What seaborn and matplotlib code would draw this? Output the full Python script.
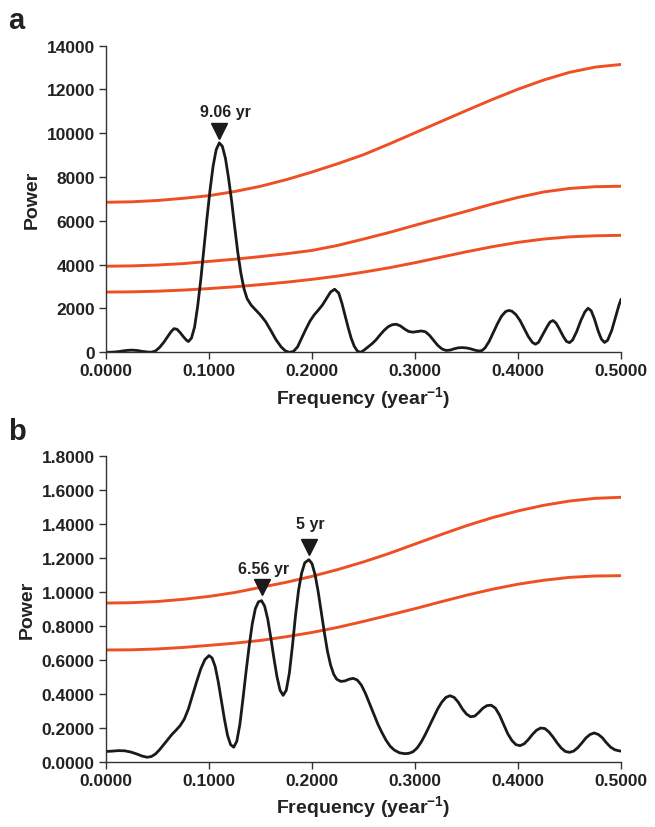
import numpy as np
import pandas as pd
import matplotlib
matplotlib.use("Agg")
import matplotlib.pyplot as plt
import seaborn as sns

# --- dati ---
# pannello a: spettro di potenza
freq_a = [0.000, 0.005, 0.010, 0.015, 0.020, 0.025, 0.030, 0.035, 0.040, 0.044,
          0.048, 0.052, 0.056, 0.060, 0.063, 0.066, 0.069, 0.072, 0.075, 0.078,
          0.080, 0.083, 0.086, 0.089, 0.092, 0.095, 0.098, 0.101, 0.104, 0.107,
          0.110, 0.113, 0.116, 0.119, 0.122, 0.125, 0.128, 0.131, 0.134, 0.137,
          0.141, 0.145, 0.150, 0.155, 0.160, 0.165, 0.170, 0.174, 0.178, 0.182,
          0.186, 0.190, 0.194, 0.198, 0.202, 0.206, 0.210, 0.214, 0.218, 0.222,
          0.226, 0.229, 0.232, 0.235, 0.238, 0.241, 0.244, 0.247, 0.250, 0.254,
          0.258, 0.262, 0.266, 0.270, 0.274, 0.278, 0.282, 0.286, 0.290, 0.294,
          0.298, 0.302, 0.306, 0.310, 0.314, 0.318, 0.322, 0.326, 0.330, 0.334,
          0.338, 0.342, 0.346, 0.350, 0.354, 0.358, 0.362, 0.365, 0.368, 0.372,
          0.376, 0.380, 0.384, 0.388, 0.391, 0.394, 0.398, 0.402, 0.406, 0.410,
          0.414, 0.417, 0.420, 0.424, 0.428, 0.431, 0.434, 0.437, 0.440, 0.444,
          0.447, 0.450, 0.453, 0.457, 0.461, 0.465, 0.468, 0.471, 0.474, 0.478,
          0.481, 0.484, 0.487, 0.491, 0.495, 0.498, 0.500]
power_a = [0, 5, 20, 50, 85, 100, 85, 45, 15, 5,
           60, 220, 450, 720, 930, 1080, 1050, 900, 720, 560,
           490, 650, 1150, 2100, 3300, 4700, 6100, 7400, 8500, 9250,
           9560, 9400, 8850, 7950, 6900, 5700, 4550, 3600, 2900, 2450,
           2150, 1950, 1700, 1400, 1000, 580, 250, 70, 0, 40,
           250, 650, 1050, 1420, 1700, 1920, 2150, 2450, 2750, 2880,
           2700, 2250, 1700, 1150, 650, 280, 60, 0, 80, 230,
           380, 560, 790, 1000, 1170, 1260, 1280, 1200, 1060, 950,
           920, 950, 975, 940, 780, 550, 320, 160, 85, 100,
           160, 205, 215, 200, 160, 100, 60, 80, 200, 500,
           900, 1300, 1650, 1860, 1910, 1880, 1720, 1450, 1080, 720,
           450, 370, 460, 800, 1150, 1380, 1450, 1330, 1080, 720,
           500, 440, 560, 950, 1450, 1850, 2010, 1900, 1550, 950,
           600, 450, 550, 1000, 1650, 2150, 2420]

# soglie di confidenza (curve rosse)
freq_conf = [0.000, 0.025, 0.050, 0.075, 0.100, 0.125, 0.150, 0.175, 0.200, 0.225,
             0.250, 0.275, 0.300, 0.325, 0.350, 0.375, 0.400, 0.425, 0.450, 0.475, 0.500]
conf_a_top = [6850, 6870, 6930, 7030, 7150, 7340, 7580, 7880, 8230, 8610,
              9020, 9510, 10020, 10530, 11040, 11540, 12010, 12430, 12780, 13020, 13140]
conf_a_mid = [3930, 3945, 3985, 4050, 4150, 4250, 4370, 4500, 4650, 4880,
              5170, 5470, 5800, 6120, 6440, 6770, 7070, 7320, 7480, 7560, 7580]
conf_a_bot = [2750, 2760, 2790, 2840, 2910, 2990, 3090, 3200, 3330, 3480,
              3660, 3860, 4090, 4340, 4590, 4820, 5020, 5170, 5270, 5320, 5340]

# pannello b
freq_b = [0.000, 0.006, 0.012, 0.018, 0.024, 0.030, 0.035, 0.040, 0.044, 0.048,
          0.052, 0.056, 0.060, 0.064, 0.068, 0.072, 0.076, 0.080, 0.084, 0.088,
          0.092, 0.096, 0.100, 0.103, 0.106, 0.109, 0.112, 0.115, 0.118, 0.121,
          0.124, 0.127, 0.130, 0.133, 0.136, 0.139, 0.142, 0.145, 0.148, 0.151,
          0.154, 0.157, 0.160, 0.163, 0.166, 0.169, 0.172, 0.175, 0.178, 0.181,
          0.184, 0.187, 0.190, 0.193, 0.197, 0.200, 0.203, 0.206, 0.209, 0.212,
          0.215, 0.218, 0.221, 0.224, 0.228, 0.232, 0.236, 0.240, 0.244, 0.248,
          0.252, 0.256, 0.260, 0.264, 0.268, 0.272, 0.276, 0.280, 0.285, 0.290,
          0.294, 0.298, 0.302, 0.306, 0.310, 0.314, 0.318, 0.322, 0.326, 0.330,
          0.334, 0.338, 0.342, 0.346, 0.350, 0.354, 0.358, 0.362, 0.366, 0.370,
          0.374, 0.378, 0.382, 0.386, 0.390, 0.394, 0.398, 0.402, 0.406, 0.410,
          0.414, 0.418, 0.422, 0.426, 0.430, 0.434, 0.438, 0.442, 0.446, 0.450,
          0.454, 0.458, 0.462, 0.466, 0.470, 0.474, 0.478, 0.482, 0.486, 0.490,
          0.494, 0.498, 0.500]
power_b = [0.060, 0.062, 0.065, 0.064, 0.057, 0.045, 0.033, 0.026, 0.030, 0.045,
           0.070, 0.100, 0.130, 0.160, 0.185, 0.212, 0.250, 0.310, 0.390, 0.470,
           0.545, 0.600, 0.624, 0.610, 0.560, 0.470, 0.360, 0.250, 0.155, 0.100,
           0.085, 0.120, 0.220, 0.370, 0.530, 0.680, 0.810, 0.900, 0.940, 0.947,
           0.915, 0.840, 0.730, 0.610, 0.500, 0.420, 0.390, 0.420, 0.520, 0.680,
           0.860, 1.010, 1.110, 1.170, 1.188, 1.165, 1.100, 1.000, 0.880, 0.760,
           0.650, 0.570, 0.515, 0.485, 0.472, 0.475, 0.485, 0.490, 0.480, 0.450,
           0.400, 0.340, 0.280, 0.220, 0.170, 0.125, 0.090, 0.068, 0.052, 0.047,
           0.049, 0.058, 0.080, 0.115, 0.160, 0.210, 0.260, 0.310, 0.350, 0.378,
           0.388, 0.378, 0.350, 0.310, 0.280, 0.264, 0.268, 0.290, 0.315, 0.330,
           0.332, 0.315, 0.275, 0.220, 0.165, 0.125, 0.100, 0.094, 0.105, 0.130,
           0.160, 0.185, 0.198, 0.195, 0.175, 0.145, 0.110, 0.080, 0.060, 0.055,
           0.062, 0.082, 0.110, 0.140, 0.160, 0.169, 0.160, 0.140, 0.110, 0.085,
           0.070, 0.064, 0.062]
conf_b_top = [0.933, 0.935, 0.942, 0.955, 0.972, 0.995, 1.025, 1.055, 1.090, 1.130,
              1.175, 1.225, 1.280, 1.335, 1.388, 1.435, 1.475, 1.508, 1.533, 1.549, 1.555]
conf_b_bot = [0.657, 0.658, 0.663, 0.672, 0.684, 0.697, 0.713, 0.735, 0.760, 0.790,
              0.825, 0.862, 0.900, 0.940, 0.979, 1.014, 1.044, 1.067, 1.084, 1.092, 1.094]

# picchi segnalati (triangoli) e relative etichette
peaks_a_x = [0.1097]
peaks_a_y = [10100]
labels_a_x = [0.1155]
labels_a_y = [10980]
peaks_a_lab = ["9.06 yr"]
peaks_b_x = [0.151, 0.1974]
peaks_b_y = [1.026, 1.261]
labels_b_x = [0.1534, 0.198]
labels_b_y = [1.134, 1.402]
peaks_b_lab = ["6.56 yr", "5 yr"]

sns.set_style("ticks")
plt.rcParams['font.family'] = ['Liberation Sans', 'DejaVu Sans']
plt.rcParams['font.weight'] = 'bold'
plt.rcParams['mathtext.fontset'] = 'custom'
plt.rcParams['mathtext.rm'] = 'Liberation Sans:bold'
plt.rcParams['mathtext.default'] = 'rm'

rosso = '#EE5024'
nero = '#1a1a1a'
testo = '#222222'

fig = plt.figure(figsize=(6.55, 8.28), dpi=100)
ax_a = fig.add_axes([0.1618, 0.5733, 0.7863, 0.3704])
ax_b = fig.add_axes([0.1618, 0.0789, 0.7863, 0.3696])


def disegna(ax, freq, power, soglie, px, py, lx, ly, plab, ymax, ystep, yfmt):
    for s in soglie:
        d = pd.DataFrame({'f': freq_conf, 'p': s})
        sns.lineplot(data=d, x='f', y='p', ax=ax, color=rosso, lw=2.1, sort=False)
    d = pd.DataFrame({'f': freq, 'p': power})
    sns.lineplot(data=d, x='f', y='p', ax=ax, color=nero, lw=2.0, sort=False)
    for ln in ax.get_lines():
        ln.set_solid_joinstyle('round')
        ln.set_solid_capstyle('round')
    ax.plot(px, py, linestyle='none', marker='v', color=nero, markersize=11)
    for x, y, t in zip(lx, ly, plab):
        ax.text(x, y, t, ha='center', va='center', fontsize=11.5,
                fontweight='bold', color=testo)
    ax.set_xlim(0, 0.5)
    ax.set_ylim(0, ymax)
    xt = np.arange(0, 0.5001, 0.1)
    yt = np.arange(0, ymax + ystep / 2, ystep)
    ax.set_xticks(xt)
    ax.set_yticks(yt)
    ax.set_xticklabels([f"{v:.4f}" for v in xt])
    ax.set_yticklabels([yfmt.format(v) for v in yt])
    ax.tick_params(direction='out', length=5, width=1, color='#333333',
                   labelsize=12.5, labelcolor=testo, pad=3)
    for lab in ax.get_xticklabels() + ax.get_yticklabels():
        lab.set_fontweight('bold')
    sns.despine(ax=ax)
    for sp in ['left', 'bottom']:
        ax.spines[sp].set_color('#333333')
        ax.spines[sp].set_linewidth(1)
    ax.set_xlabel("Frequency (year$^{-1}$)", fontsize=14, fontweight='bold', color=testo)
    ax.set_ylabel("Power", fontsize=14, fontweight='bold', color=testo)


disegna(ax_a, freq_a, power_a, [conf_a_top, conf_a_mid, conf_a_bot],
        peaks_a_x, peaks_a_y, labels_a_x, labels_a_y, peaks_a_lab, 14000, 2000, "{:.0f}")
disegna(ax_b, freq_b, power_b, [conf_b_top, conf_b_bot],
        peaks_b_x, peaks_b_y, labels_b_x, labels_b_y, peaks_b_lab, 1.8, 0.2, "{:.4f}")

fig.text(0.012, 0.975, "a", fontsize=21, fontweight='bold', color=testo, va='center')
fig.text(0.012, 0.478, "b", fontsize=21, fontweight='bold', color=testo, va='center')

plt.savefig("out.png", dpi=100)
plt.close()
